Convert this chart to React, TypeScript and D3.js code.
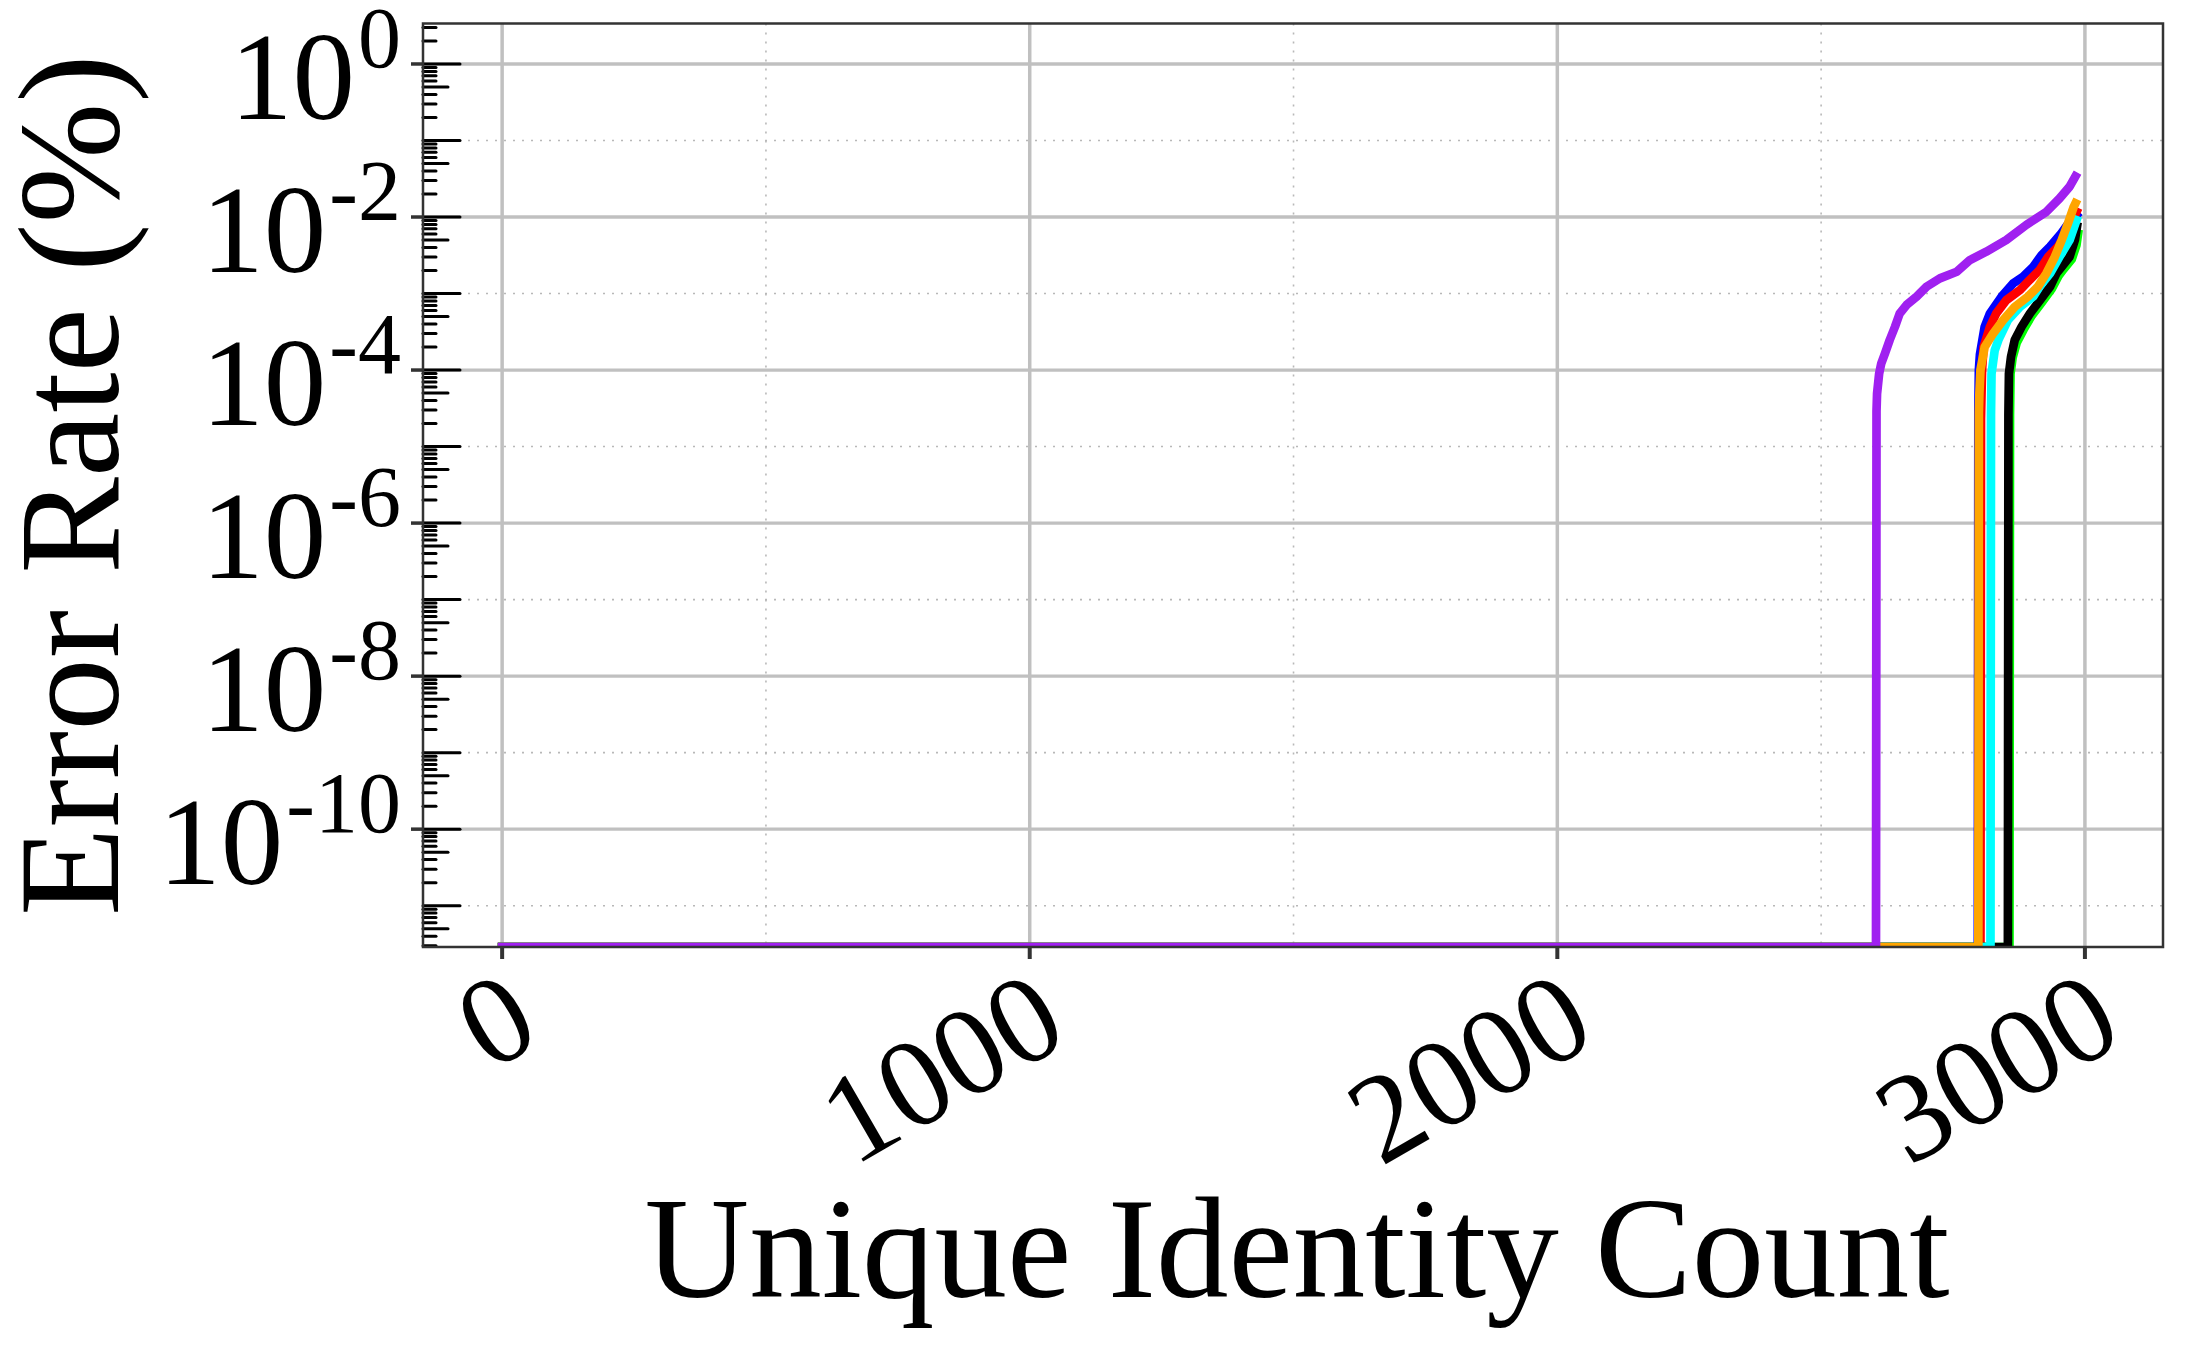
import React from 'react';
import * as d3 from 'd3';

const W = 2187;
const H = 1350;

// ---- axis / tick data ----
const xMajorTicks = [0, 1000, 2000, 3000];
const xMinorGrid = [500, 1500, 2500];
const yMajorExps = [0, -2, -4, -6, -8, -10];
const yMinorGridExps = [-1, -3, -5, -7, -9, -11];
const xLabel = 'Unique Identity Count';
const yLabel = 'Error Rate (%)';

// ---- series data (x = unique identity count, y = error rate %) ----
const blueX = [0, 2797, 2798, 2799, 2801, 2810, 2820, 2842, 2864, 2883, 2902, 2918, 2934, 2955, 2970, 2984];
const blueY = [0, 0, 2.8e-5, 1.0e-4, 1.6e-4, 3.68e-4, 5.5e-4, 9.1e-4, 1.36e-3, 1.66e-3, 2.24e-3, 3.19e-3, 4.1e-3, 6.1e-3, 8.5e-3, 1.06e-2];

const redX = [0, 2802, 2803, 2805, 2808, 2820, 2832, 2851, 2877, 2895, 2914, 2930, 2949, 2968, 2984];
const redY = [0, 0, 2.3e-5, 1.0e-4, 2.0e-4, 3.68e-4, 5.5e-4, 8.2e-4, 1.11e-3, 1.5e-3, 2.03e-3, 3.0e-3, 4.1e-3, 6.8e-3, 1.17e-2];

const greenX = [0, 2857, 2858, 2859, 2863, 2871, 2884, 2899, 2918, 2937, 2950, 2960, 2975, 2984, 2987];
const greenY = [0, 0, 2.6e-5, 9.0e-5, 1.45e-4, 2.3e-4, 3.4e-4, 5.1e-4, 7.6e-4, 1.15e-3, 1.7e-3, 2.1e-3, 2.8e-3, 4.3e-3, 6.0e-3];

const blackX = [0, 2854, 2855, 2856, 2860, 2867, 2880, 2896, 2915, 2934, 2946, 2956, 2971, 2981, 2985];
const blackY = [0, 0, 2.6e-5, 9.0e-5, 1.5e-4, 2.47e-4, 3.68e-4, 5.5e-4, 8.2e-4, 1.23e-3, 1.84e-3, 2.24e-3, 3.03e-3, 5.0e-3, 7.5e-3];

const cyanX = [0, 2821, 2822, 2823, 2829, 2836, 2854, 2877, 2902, 2914, 2934, 2952, 2971, 2984];
const cyanY = [0, 0, 2.6e-5, 9.0e-5, 1.8e-4, 2.47e-4, 4.5e-4, 6.7e-4, 9.1e-4, 1.23e-3, 1.84e-3, 3.03e-3, 5.0e-3, 9.1e-3];

const orangeX = [0, 2798, 2799, 2800, 2802, 2810, 2826, 2845, 2867, 2892, 2911, 2927, 2943, 2956, 2968, 2979, 2982];
const orangeY = [0, 0, 2.8e-5, 5.0e-5, 1.0e-4, 2.0e-4, 3.0e-4, 4.5e-4, 6.7e-4, 9.1e-4, 1.23e-3, 1.84e-3, 3.03e-3, 5.0e-3, 8.3e-3, 1.37e-2, 1.51e-2];

const purpleX = [0, 2604, 2605, 2606, 2610, 2614, 2621, 2630, 2640, 2649, 2662, 2681, 2700, 2725, 2757, 2782, 2813, 2851, 2889, 2927, 2952, 2971, 2982];
const purpleY = [0, 0, 2.9e-5, 4.9e-5, 9.0e-5, 1.22e-4, 1.65e-4, 2.47e-4, 3.68e-4, 5.5e-4, 7.1e-4, 9.1e-4, 1.23e-3, 1.58e-3, 1.93e-3, 2.74e-3, 3.52e-3, 5.0e-3, 7.9e-3, 1.17e-2, 1.75e-2, 2.49e-2, 3.4e-2];

const seriesColors = ['#0000ff', '#ff0000', '#00ff00', '#000000', '#00ffff', '#ffa500', '#a020f0'];
const seriesXs = [blueX, redX, greenX, blackX, cyanX, orangeX, purpleX];
const seriesYs = [blueY, redY, greenY, blackY, cyanY, orangeY, purpleY];

// ---- layout ----
const plotLeft = 423;
const plotRight = 2163;
const plotTop = 23.5;
const plotBottom = 947;
const FONT = '"Liberation Serif", "Times New Roman", serif';

export default function App() {
  const x = d3.scaleLinear().domain([-150, 3148]).range([plotLeft, plotRight]);
  const y = d3.scaleLog().domain([Math.pow(10, -11.54), Math.pow(10, 0.529)]).range([plotBottom, plotTop]);

  const line = d3
    .line<[number, number]>()
    .x((d) => x(d[0]))
    .y((d) => (d[1] > 0 ? y(d[1]) : plotBottom));

  // y ticks (inner, all decades with 1..9 subdivisions)
  const innerTicks: { v: number; len: number }[] = [];
  const [dMin, dMax] = y.domain();
  for (let k = -12; k <= 1; k++) {
    for (let m = 1; m <= 9; m++) {
      const v = m * Math.pow(10, k);
      if (v >= dMin && v <= dMax) {
        innerTicks.push({ v, len: m === 1 ? 37 : m === 5 ? 25 : 13 });
      }
    }
  }

  const gridMajor = '#c0c0c0';
  const gridMinor = '#b8b8b8';
  const spine = '#333333';

  return (
    <svg
      width={W}
      height={H}
      viewBox={`0 0 ${W} ${H}`}
      style={{ position: 'absolute', left: 0, top: 0, background: '#ffffff' }}
      fontFamily={FONT}
    >
      <rect x={0} y={0} width={W} height={H} fill="#ffffff" />
      <defs>
        <clipPath id="plotClip">
          <rect x={plotLeft} y={plotTop} width={plotRight - plotLeft} height={plotBottom - plotTop} />
        </clipPath>
      </defs>

      {/* minor dotted grid */}
      {xMinorGrid.map((v) => (
        <line key={'xm' + v} x1={x(v)} x2={x(v)} y1={plotTop} y2={plotBottom} stroke={gridMinor} strokeWidth={1.6} strokeDasharray="2 7" />
      ))}
      {yMinorGridExps.map((e) => (
        <line key={'ym' + e} x1={plotLeft} x2={plotRight} y1={y(Math.pow(10, e))} y2={y(Math.pow(10, e))} stroke={gridMinor} strokeWidth={1.6} strokeDasharray="2 7" />
      ))}
      {/* major grid */}
      {xMajorTicks.map((v) => (
        <line key={'xg' + v} x1={x(v)} x2={x(v)} y1={plotTop} y2={plotBottom} stroke={gridMajor} strokeWidth={3.5} />
      ))}
      {yMajorExps.map((e) => (
        <line key={'yg' + e} x1={plotLeft} x2={plotRight} y1={y(Math.pow(10, e))} y2={y(Math.pow(10, e))} stroke={gridMajor} strokeWidth={3.3} />
      ))}

      {/* series */}
      <g clipPath="url(#plotClip)">
        {seriesXs.map((xs, i) => {
          const pts: [number, number][] = xs.map((xv, j) => [xv, seriesYs[i][j]]);
          return (
            <path
              key={'s' + i}
              d={line(pts) || ''}
              fill="none"
              stroke={seriesColors[i]}
              strokeWidth={8.7}
              strokeLinejoin="round"
              strokeLinecap="square"
            />
          );
        })}
      </g>

      {/* inner y ticks */}
      {innerTicks.map((t, i) => (
        <line key={'it' + i} x1={plotLeft} x2={plotLeft + t.len} y1={y(t.v)} y2={y(t.v)} stroke="#000000" strokeWidth={3} strokeLinecap="round" />
      ))}

      {/* outer major ticks */}
      {yMajorExps.map((e) => (
        <line key={'yt' + e} x1={plotLeft - 12} x2={plotLeft} y1={y(Math.pow(10, e))} y2={y(Math.pow(10, e))} stroke={spine} strokeWidth={3.5} />
      ))}
      {xMajorTicks.map((v) => (
        <line key={'xt' + v} x1={x(v)} x2={x(v)} y1={plotBottom} y2={plotBottom + 12} stroke={spine} strokeWidth={4} />
      ))}

      {/* frame */}
      <rect x={plotLeft} y={plotTop} width={plotRight - plotLeft} height={plotBottom - plotTop} fill="none" stroke={spine} strokeWidth={2.5} />

      {/* y tick labels */}
      {yMajorExps.map((e) => {
        const yy = y(Math.pow(10, e));
        const sup = e === 0 ? '0' : '-' + Math.abs(e);
        return (
          <text key={'yl' + e} x={401} y={yy + 55} textAnchor="end" fontSize={125} fill="#000">
            <tspan>10</tspan>
            <tspan dx={3} dy={-52} fontSize={86}>{sup}</tspan>
          </text>
        );
      })}

      {/* x tick labels */}
      {xMajorTicks.map((v) => (
        <text
          key={'xl' + v}
          transform={`translate(${x(v) + 42},${plotBottom + 94}) rotate(-30)`}
          textAnchor="end"
          fontSize={126}
          fill="#000"
        >
          {String(v)}
        </text>
      ))}

      {/* axis labels */}
      <text x={(plotLeft + plotRight) / 2 + 4} y={1297} textAnchor="middle" fontSize={145} fill="#000">
        {xLabel}
      </text>
      <text transform={`translate(118,${(plotTop + plotBottom) / 2}) rotate(-90)`} textAnchor="middle" fontSize={145} fill="#000">
        {yLabel}
      </text>
    </svg>
  );
}
